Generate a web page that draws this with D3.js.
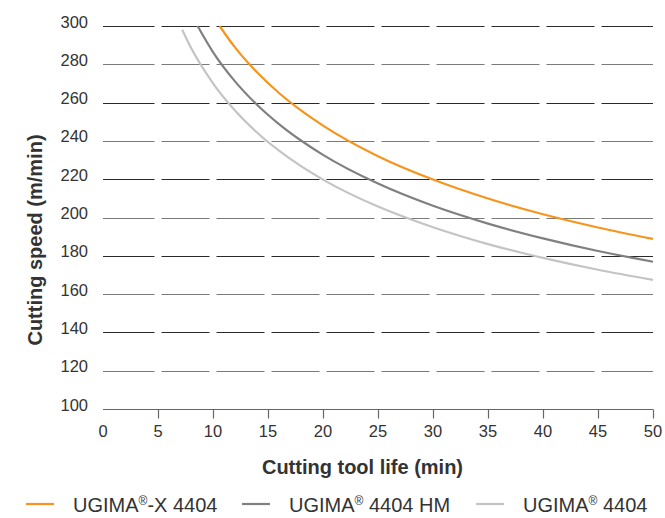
<!DOCTYPE html>
<html><head><meta charset="utf-8">
<script src="https://cdn.jsdelivr.net/npm/d3@7"></script>
<style>
html,body{margin:0;padding:0;background:#fff;}
svg{display:block;font-family:"Liberation Sans",Arial,sans-serif;}
</style></head>
<body><svg id="c" width="665" height="518"></svg>
<script>
// ---- data ----
const xTicks = [0,5,10,15,20,25,30,35,40,45,50];
const yTicks = [100,120,140,160,180,200,220,240,260,280,300];
const seriesNames = ["UGIMA®-X 4404","UGIMA® 4404 HM","UGIMA® 4404"];
const seriesColors = ["#f7941d","#808080","#c4c4c4"];
const lifeX  = [10.6,12,14,16,18,20,25,30,35,40,45,50];
const speedX = [300,288.8,275.8,265.0,255.9,248.0,232.0,219.8,209.9,201.7,194.8,188.8];
const lifeHM  = [8.6,10,12,14,16,18,20,25,30,35,40,45,50];
const speedHM = [300,286.4,271.1,258.9,248.8,240.2,232.7,217.7,206.1,196.8,189.1,182.5,176.9];
const lifeStd  = [7.2,8,10,12,14,16,18,20,25,30,35,40,45,50];
const speedStd = [298,288.6,270.1,255.9,244.4,234.9,226.8,219.8,205.7,194.9,186.1,178.9,172.7,167.4];
const xTitle = "Cutting tool life (min)";
const yTitle = "Cutting speed (m/min)";

const series = [
  {name: seriesNames[0], color: seriesColors[0], pts: lifeX.map((t,i)=>[t,speedX[i]])},
  {name: seriesNames[1], color: seriesColors[1], pts: lifeHM.map((t,i)=>[t,speedHM[i]])},
  {name: seriesNames[2], color: seriesColors[2], pts: lifeStd.map((t,i)=>[t,speedStd[i]])}
];

const svg = d3.select("#c");
const x = d3.scaleLinear().domain([0,50]).range([103,653]);
const y = d3.scaleLinear().domain([100,300]).range([409,26]);
const textColor = "#333";

// gridlines: dashed segments with gaps at each x tick
const grid = svg.append("g");
yTicks.filter(v=>v>100).forEach((v,i)=>{
  const dark = ((300 - v)/20) % 2 === 0;
  for (let k=0;k<xTicks.length-1;k++){
    const x0 = k===0 ? x(xTicks[k]) : x(xTicks[k])+3.5;
    const x1 = k===xTicks.length-2 ? x(xTicks[k+1]) : x(xTicks[k+1])-3.5;
    grid.append("line").attr("x1",x0).attr("x2",x1)
      .attr("y1",Math.round(y(v))+0.5).attr("y2",Math.round(y(v))+0.5)
      .attr("stroke", dark ? "#2a2a2a" : "#7a7a7a").attr("stroke-width",1.2);
  }
});

// bottom axis
const xAxis = d3.axisBottom(x).tickValues(xTicks.filter(v=>v>0)).tickSize(9).tickPadding(4).tickFormat(d3.format("d"));
const gx = svg.append("g").attr("transform",`translate(0,${Math.round(y(100))+0.5})`).call(xAxis);
gx.select(".domain").attr("stroke","#666").attr("stroke-width",1.2).attr("d",`M${x(0)},0H${x(50)}`);
gx.selectAll(".tick line").attr("stroke","#666").attr("stroke-width",1.2);
gx.selectAll(".tick text").remove();
svg.append("g").selectAll("text").data(xTicks).join("text")
  .attr("x",d=>x(d)).attr("y",437).attr("text-anchor","middle")
  .attr("font-size","16.5px").attr("fill",textColor).text(d=>d);

// y labels
svg.append("g").selectAll("text").data(yTicks).join("text")
  .attr("x",88).attr("y",d=>y(d)+1.5).attr("text-anchor","end")
  .attr("font-size","16.5px").attr("fill",textColor).text(d=>d);

// curves
const line = d3.line().x(d=>x(d[0])).y(d=>y(d[1])).curve(d3.curveMonotoneX);
svg.append("g").selectAll("path").data(series).join("path")
  .attr("d",d=>line(d.pts)).attr("fill","none")
  .attr("stroke",d=>d.color).attr("stroke-width",2.2);

// titles
svg.append("text").attr("x",362.5).attr("y",474).attr("text-anchor","middle")
  .attr("font-size","20px").attr("font-weight","bold").attr("fill",textColor).text(xTitle);
svg.append("text").attr("transform","translate(42,240) rotate(-90)").attr("text-anchor","middle")
  .attr("font-size","20px").attr("font-weight","bold").attr("fill",textColor).text(yTitle);

// legend
const legX = [26, 242, 476];
const lg = svg.append("g");
series.forEach((s,i)=>{
  lg.append("line").attr("x1",legX[i]).attr("x2",legX[i]+28).attr("y1",504).attr("y2",504)
    .attr("stroke",s.color).attr("stroke-width",2.2);
  const t = lg.append("text").attr("x",legX[i]+47).attr("y",512).attr("font-size","20px").attr("fill",textColor);
  const parts = s.name.split("®");
  t.append("tspan").text(parts[0]);
  t.append("tspan").attr("font-size","12px").attr("dy",-7).text("®");
  t.append("tspan").attr("dy",7).text(parts[1]);
});
</script></body></html>
